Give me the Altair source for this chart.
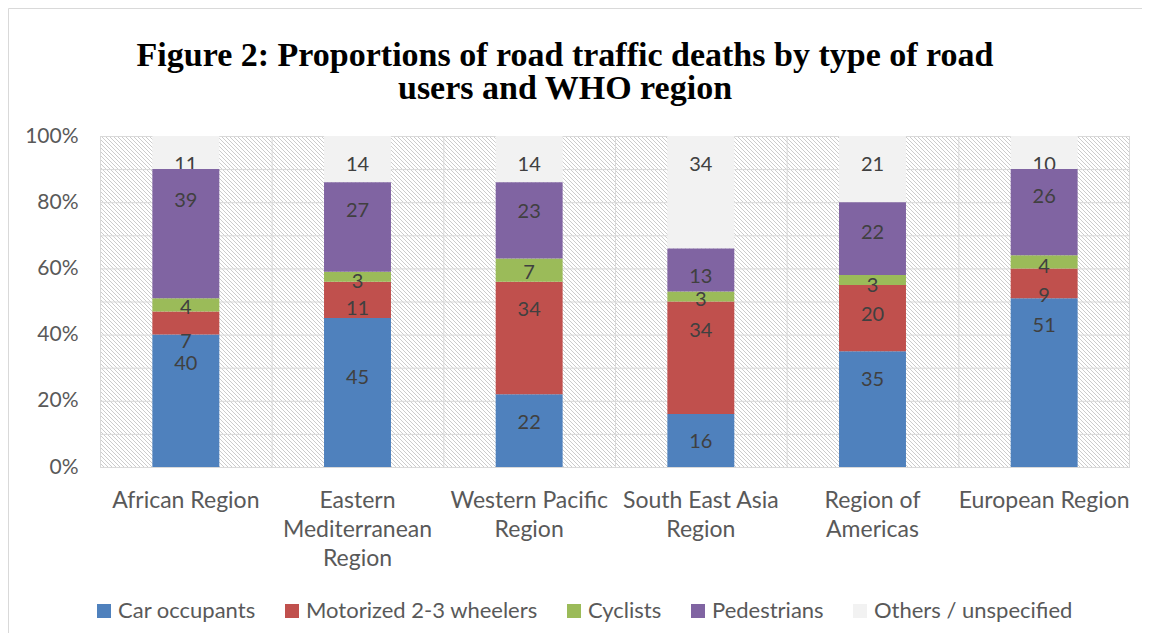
import altair as alt
import numpy as np
import pandas as pd

# ---------------- data ----------------
regions = [
    "African Region",
    "Eastern Mediterranean Region",
    "Western Pacific Region",
    "South East Asia Region",
    "Region of Americas",
    "European Region",
]
region_lines = [
    ["African Region"],
    ["Eastern", "Mediterranean", "Region"],
    ["Western Pacific", "Region"],
    ["South East Asia", "Region"],
    ["Region of", "Americas"],
    ["European Region"],
]
series = ["Car occupants", "Motorized 2-3 wheelers", "Cyclists", "Pedestrians", "Others / unspecified"]
colors = ["#4f81bd", "#c0504d", "#9bbb59", "#8064a2", "#f2f2f2"]

car = [40, 45, 22, 16, 35, 51]
moto = [7, 11, 34, 34, 20, 9]
cyc = [4, 3, 7, 3, 3, 4]
ped = [39, 27, 23, 13, 22, 26]
others = [11, 14, 14, 34, 21, 10]

# heights (in %) at which the value labels sit in the reference
car_lab = [31.0, 26.9, 13.3, 7.7, 26.3, 42.7]
moto_lab = [37.8, 47.7, 47.4, 41.2, 45.9, 51.7]
cyc_lab = [48.0, 56.0, 58.7, 50.4, 54.7, 60.4]
ped_lab = [80.5, 77.3, 77.1, 57.5, 70.7, 81.7]
oth_lab = [91.2, 91.2, 91.2, 91.2, 91.2, 91.2]

y_ticks = [0, 10, 20, 30, 40, 50, 60, 70, 80, 90, 100]

values = [car, moto, cyc, ped, others]
labpos = [car_lab, moto_lab, cyc_lab, ped_lab, oth_lab]

rows = []
for si, s in enumerate(series):
    for ri, r in enumerate(regions):
        rows.append({"region": r, "series": s, "order": si,
                     "value": values[si][ri], "label_y": labpos[si][ri]})
df = pd.DataFrame(rows)
df_ticks = pd.DataFrame({"tick": y_ticks})
df_regions = pd.DataFrame({"region": regions})

# ---------------- style ----------------
W, H = 1030, 331
FONT = "Lato"
GRID = "#d9d9d9"
HATCH_STEP = 4

label_expr = " : ".join(
    f"datum.value == '{reg}' ? {lines!r}" for reg, lines in zip(regions, region_lines)
) + " : datum.value"

x_scale = alt.Scale(domain=regions, paddingInner=0, paddingOuter=0)
x_axis = alt.Axis(
    title=None, labelAngle=0, labelExpr=label_expr, labelFont=FONT, labelFontSize=23,
    labelColor="#595959", labelLineHeight=29, labelPadding=22, ticks=False, domain=False,
    grid=False, labelLimit=400,
)
y_scale = alt.Scale(domain=[0, 100], clamp=True, nice=False)
y_axis = alt.Axis(
    title=None, values=y_ticks, labelExpr="datum.value + '%'", labelFont=FONT,
    labelFontSize=21, labelColor="#595959", labelPadding=22, ticks=False, domain=False,
    grid=False, labelOverlap=False,
)
color_enc = alt.Color(
    "series:N",
    scale=alt.Scale(domain=series, range=colors),
    legend=alt.Legend(
        orient="none", legendX=-7, legendY=464, direction="horizontal", columns=5, title=None,
        symbolType="square", symbolSize=196, symbolStrokeWidth=0, labelFont=FONT,
        labelFontSize=22, labelColor="#595959", labelOffset=3, columnPadding=25, padding=0,
        labelLimit=500,
    ),
)

# background hatch: thin diagonal lines clipped to the plot area
hatch_df = pd.DataFrame({"d": np.arange(-H, W + HATCH_STEP, HATCH_STEP)})
hatch = alt.Chart(hatch_df).transform_calculate(d2=f"datum.d + {H}").mark_rule(
    clip=True, color="#cccccc", strokeWidth=1
).encode(
    x=alt.X("d:Q", scale=alt.Scale(domain=[0, W], nice=False, zero=False), axis=None),
    x2="d2:Q",
    y=alt.value(0),
    y2=alt.value(H),
)

# grid lines
hgrid = alt.Chart(df_ticks).mark_rule(color=GRID, strokeWidth=1, yOffset=0.5).encode(
    y=alt.Y("tick:Q", scale=y_scale, axis=y_axis)
)
vgrid = alt.Chart(df_regions).mark_rule(color=GRID, strokeWidth=1, xOffset=0.5).encode(
    x=alt.X("region:N", sort=regions, scale=x_scale, axis=x_axis, bandPosition=0)
)
vgrid_end = alt.Chart(df_regions.tail(1)).mark_rule(color=GRID, strokeWidth=1, xOffset=-0.5).encode(
    x=alt.X("region:N", sort=regions, bandPosition=1)
)

base = alt.Chart(df).transform_stack(
    stack="value", groupby=["region"], as_=["y0", "y1"], sort=[alt.SortField("order", "ascending")]
)
is_other = alt.datum.series == series[4]
not_other = alt.datum.series != series[4]

bars_o = base.transform_filter(is_other).mark_bar(width=alt.RelativeBandSize(0.39)).encode(
    x=alt.X("region:N", sort=regions), y=alt.Y("y0:Q", title=None), y2="y1:Q", color=color_enc
)
text_o = base.transform_filter(is_other).mark_text(
    font=FONT, fontSize=20, color="#404040", baseline="middle"
).encode(x=alt.X("region:N", sort=regions), y=alt.Y("label_y:Q", title=None), text="value:Q")
bars_m = base.transform_filter(not_other).mark_bar(width=alt.RelativeBandSize(0.39)).encode(
    x=alt.X("region:N", sort=regions), y=alt.Y("y0:Q", title=None), y2="y1:Q", color=color_enc
)
text_m = base.transform_filter(not_other).mark_text(
    font=FONT, fontSize=20, color="#404040", baseline="middle"
).encode(x=alt.X("region:N", sort=regions), y=alt.Y("label_y:Q", title=None), text="value:Q")

frame = alt.Chart(pd.DataFrame({"f": [0]})).mark_rect(
    filled=False, stroke="#d9d9d9", strokeWidth=1
).encode(x=alt.value(-91.5), x2=alt.value(1042.5), y=alt.value(-127.5), y2=alt.value(497.5))

inner = alt.layer(hgrid, vgrid, vgrid_end, bars_o, text_o, bars_m, text_m, frame)

chart = alt.layer(hatch, inner).resolve_scale(x="independent").properties(
    width=W,
    height=H,
    padding={"left": 92, "top": 128, "right": 12, "bottom": 166},
    autosize=alt.AutoSizeParams(type="none"),
    title=alt.TitleParams(
        text=["Figure 2: Proportions of road traffic deaths by type of road", "users and WHO region"],
        font="Liberation Serif", fontSize=34, fontWeight="bold", color="#000000",
        anchor="middle", frame="group", dx=-50, offset=-132, lineHeight=33, baseline="bottom",
    ),
).configure_view(stroke=None)

chart.save("out.html", embed_options={"renderer": "svg", "actions": False})
